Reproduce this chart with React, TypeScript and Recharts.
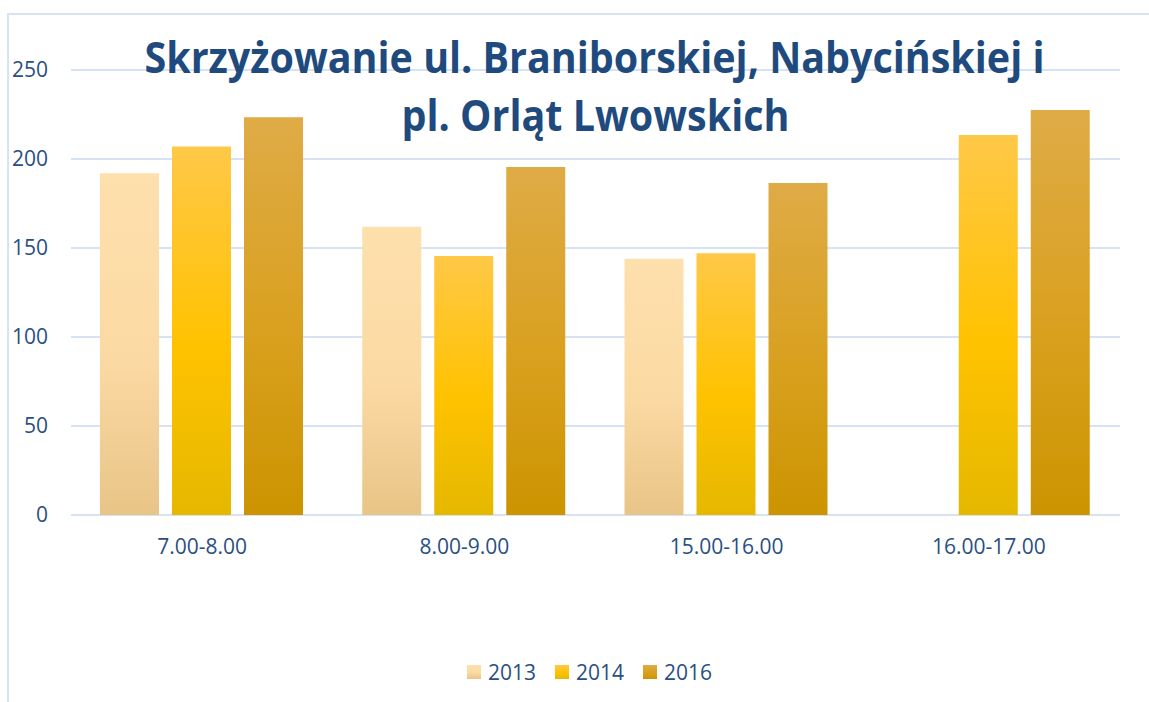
import { Bar, BarChart, CartesianGrid, XAxis, YAxis } from 'recharts';

const categories = ['7.00-8.00', '8.00-9.00', '15.00-16.00', '16.00-17.00'];
const years = ['2013', '2014', '2016'];
const values2013: (number | null)[] = [192, 162, 144, null];
const values2014: (number | null)[] = [207, 145.5, 147, 213.5];
const values2016: (number | null)[] = [223.5, 195.5, 186.5, 227.5];
const yTicks = [0, 50, 100, 150, 200, 250];
const titleLines = ['Skrzyżowanie ul. Braniborskiej, Nabycińskiej i', 'pl. Orląt Lwowskich'];

const data = categories.map((name, i) => ({
  name,
  y2013: values2013[i],
  y2014: values2014[i],
  y2016: values2016[i],
}));

// vertical gradient stops per year, top -> bottom
const gradients: Record<string, [string, string][]> = {
  '2013': [['0%', '#FEE0AD'], ['55%', '#FBD9A2'], ['100%', '#E8C487']],
  '2014': [['0%', '#FFC847'], ['55%', '#FFC200'], ['100%', '#E5B800']],
  '2016': [['0%', '#DFAB46'], ['55%', '#D9A01E'], ['100%', '#CC9400']],
};

const FONT = "'Open Sans', sans-serif";
const LABEL = '#2A4F82';
const GRID = '#D7E2F2';

export default function App() {
  return (
    <div
      style={{
        position: 'absolute',
        left: 0,
        top: 0,
        width: 1149,
        height: 702,
        overflow: 'hidden',
        background: '#fff',
        fontFamily: FONT,
      }}
    >
      <div
        style={{
          position: 'absolute',
          left: 7,
          top: 13,
          width: 1200,
          height: 800,
          borderTop: `2px solid ${GRID}`,
          borderLeft: `2px solid ${GRID}`,
        }}
      />
      <div style={{ position: 'absolute', left: 0, top: 0 }}>
        <BarChart
          width={1149}
          height={702}
          data={data}
          margin={{ top: 70, right: 29, bottom: 147, left: 0 }}
          barCategoryGap={29}
          barGap={13}
          style={{ fontFamily: FONT }}
        >
          <defs>
            {years.map((y) => (
              <linearGradient key={y} id={`g${y}`} x1="0" y1="0" x2="0" y2="1">
                {gradients[y].map(([off, col]) => (
                  <stop key={off} offset={off} stopColor={col} />
                ))}
              </linearGradient>
            ))}
          </defs>
          <CartesianGrid vertical={false} stroke={GRID} strokeWidth={2} />
          <XAxis
            dataKey="name"
            height={40}
            axisLine={false}
            tickLine={false}
            tickSize={0}
            tickMargin={24}
            tick={{ fill: LABEL, fontSize: 21 }}
            interval={0}
          />
          <YAxis
            width={71}
            domain={[0, 250]}
            ticks={yTicks}
            axisLine={false}
            tickLine={false}
            tickSize={0}
            tickMargin={23}
            tick={{ fill: LABEL, fontSize: 21 }}
          />
          {years.map((y) => (
            <Bar key={y} dataKey={`y${y}`} name={y} fill={`url(#g${y})`} isAnimationActive={false} />
          ))}
        </BarChart>
      </div>
      <svg
        width={1149}
        height={150}
        style={{ position: 'absolute', left: 0, top: 0, pointerEvents: 'none' }}
      >
        <text
          x={594.5}
          y={73}
          textAnchor="middle"
          fontFamily={FONT}
          fontWeight={700}
          fontSize={43}
          fill="#1F4A7E"
          textLength={900}
          lengthAdjust="spacingAndGlyphs"
        >
          {titleLines[0]}
        </text>
        <text
          x={595.5}
          y={131}
          textAnchor="middle"
          fontFamily={FONT}
          fontWeight={700}
          fontSize={43}
          fill="#1F4A7E"
          textLength={388}
          lengthAdjust="spacingAndGlyphs"
        >
          {titleLines[1]}
        </text>
      </svg>
      <div
        style={{
          position: 'absolute',
          left: 467,
          top: 660,
          display: 'flex',
          alignItems: 'center',
          fontSize: 21,
          lineHeight: '24px',
          color: LABEL,
        }}
      >
        {years.map((y, i) => (
          <div key={y} style={{ display: 'flex', alignItems: 'center', marginLeft: i === 0 ? 0 : 19 }}>
            <span
              style={{
                display: 'inline-block',
                width: 14,
                height: 14,
                marginRight: 7,
                background: `linear-gradient(to bottom, ${gradients[y].map(([o, c]) => `${c} ${o}`).join(', ')})`,
              }}
            />
            <span>{y}</span>
          </div>
        ))}
      </div>
    </div>
  );
}
